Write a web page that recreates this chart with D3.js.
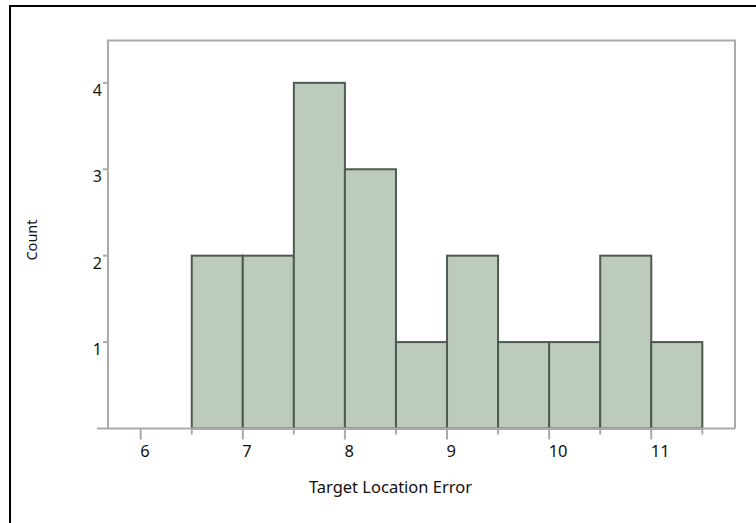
<!DOCTYPE html>
<html><head><meta charset="utf-8">
<script src="https://cdn.jsdelivr.net/npm/d3@7"></script>
<style>html,body{margin:0;padding:0;background:#fff;}svg{display:block;}</style>
</head><body>
<script>
const binStarts = [6.5, 7, 7.5, 8, 8.5, 9, 9.5, 10, 10.5, 11];
const binWidth = 0.5;
const counts = [2, 2, 4, 3, 1, 2, 1, 1, 2, 1];
const xTickMajor = [6, 7, 8, 9, 10, 11];
const xTickMinor = [6.5, 7.5, 8.5, 9.5, 10.5, 11.5];
const yTicks = [1, 2, 3, 4];
const xTitle = "Target Location Error";
const yTitle = "Count";

const W = 756, H = 523;
const L = 108, R = 735, T = 40.5, B = 428.5;
const font = "'Noto Sans', 'Open Sans', sans-serif";

const svg = d3.select("body").append("svg").attr("width", W).attr("height", H);

// outer black border (top + left)
svg.append("path").attr("d", `M10,${H} V6 H${W}`).attr("fill","none").attr("stroke","#000").attr("stroke-width",2);

const x = d3.scaleLinear().domain([5.68, 11.82]).range([L, R]);
const y = d3.scaleLinear().domain([0, 4.49]).range([B, T]);

// frame
svg.append("path").attr("d", `M${L},${B} V${T} H${R} V${B}`).attr("fill","none").attr("stroke","#aaa").attr("stroke-width",2);

// bars
svg.append("g").selectAll("rect").data(binStarts).join("rect")
  .attr("x", d => x(d))
  .attr("y", (d,i) => y(counts[i]))
  .attr("width", d => x(d + binWidth) - x(d))
  .attr("height", (d,i) => y(0) - y(counts[i]))
  .attr("fill", "#bccbbc")
  .attr("stroke", "#4e5b4f")
  .attr("stroke-width", 2);

// x axis line
svg.append("line").attr("x1", 97).attr("x2", R).attr("y1", B).attr("y2", B).attr("stroke","#aaa").attr("stroke-width",2);

// x ticks
const gx = svg.append("g");
gx.selectAll("line.maj").data(xTickMajor).join("line").attr("class","maj")
  .attr("x1", d => x(d)).attr("x2", d => x(d)).attr("y1", B).attr("y2", B + 11)
  .attr("stroke","#aaa").attr("stroke-width",2);
gx.selectAll("line.min").data(xTickMinor).join("line").attr("class","min")
  .attr("x1", d => x(d)).attr("x2", d => x(d)).attr("y1", B).attr("y2", B + 6)
  .attr("stroke","#aaa").attr("stroke-width",2);
gx.selectAll("text").data(xTickMajor).join("text")
  .attr("x", d => x(d) - 0.5).attr("y", 457)
  .attr("font-family", font).attr("font-size", 16.5).attr("fill","#111")
  .text(d => d);

// y ticks
const gy = svg.append("g");
gy.selectAll("line").data(yTicks).join("line")
  .attr("x1", L - 5).attr("x2", L).attr("y1", d => y(d)).attr("y2", d => y(d))
  .attr("stroke","#aaa").attr("stroke-width",2);
gy.selectAll("text").data(yTicks).join("text")
  .attr("x", 102).attr("y", d => y(d) + 13)
  .attr("text-anchor","end")
  .attr("font-family", font).attr("font-size", 16).attr("fill","#111")
  .text(d => d);

// titles
svg.append("text").attr("x", 390.5).attr("y", 493).attr("text-anchor","middle")
  .attr("font-family", font).attr("font-size", 16.5).attr("fill","#111").text(xTitle);
svg.append("text").attr("transform","translate(36.5,240) rotate(-90)").attr("text-anchor","middle")
  .attr("font-family", font).attr("font-size", 14.5).attr("fill","#111").text(yTitle);
</script>
</body></html>
